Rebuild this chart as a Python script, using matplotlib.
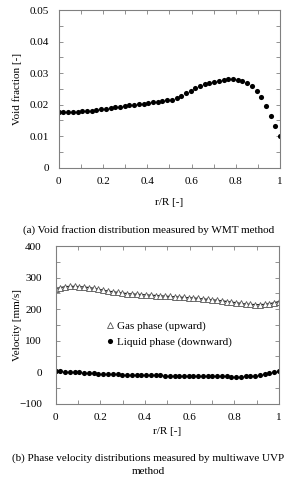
import matplotlib
matplotlib.use('Agg')
import matplotlib.pyplot as plt
from matplotlib.ticker import MultipleLocator, FuncFormatter

# r/R measurement positions
r = [0.000, 0.021, 0.043, 0.064, 0.085, 0.106, 0.128, 0.149, 0.170, 0.191,
     0.213, 0.234, 0.255, 0.277, 0.298, 0.319, 0.340, 0.362, 0.383, 0.404,
     0.426, 0.447, 0.468, 0.489, 0.511, 0.532, 0.553, 0.574, 0.596, 0.617,
     0.638, 0.660, 0.681, 0.702, 0.723, 0.745, 0.766, 0.787, 0.809, 0.830,
     0.851, 0.872, 0.894, 0.915, 0.936, 0.957, 0.979, 1.000]

void = [0.0175, 0.0175, 0.0175, 0.0176, 0.0177, 0.0178, 0.0179, 0.0181, 0.0183, 0.0185,
        0.0187, 0.0189, 0.0191, 0.0193, 0.0195, 0.0197, 0.0199, 0.0201, 0.0203, 0.0205,
        0.0207, 0.0209, 0.0211, 0.0213, 0.0216, 0.0221, 0.0228, 0.0236, 0.0244, 0.0251,
        0.0258, 0.0264, 0.0269, 0.0273, 0.0276, 0.0278, 0.0280, 0.0280, 0.0279, 0.0276,
        0.0270, 0.0260, 0.0244, 0.0223, 0.0196, 0.0165, 0.0133, 0.0100]

gas = [265, 268, 271, 272, 272, 271, 270, 268, 266, 263,
       260, 257, 255, 253, 251, 249, 248, 247, 246, 245,
       244, 243, 242, 241, 240, 239, 238, 237, 236, 235,
       234, 232, 231, 229, 228, 226, 224, 222, 220, 218,
       216, 215, 214, 214, 215, 217, 220, 224]

liquid = [4, 3, 2, 1, 0, -1, -2, -3, -4, -4.5,
          -5, -6, -6.5, -7, -7.5, -8, -8.5, -9, -9.5, -10,
          -10, -10.5, -10.5, -11, -11, -11.5, -11.5, -12, -12, -12,
          -12.5, -12.5, -13, -13, -13, -13.5, -13.5, -14, -14, -14,
          -13.5, -13, -12, -10, -7, -3, 1, 5]

plt.rcParams['font.family'] = ['Liberation Serif', 'DejaVu Serif']
plt.rcParams['font.size'] = 8

fig = plt.figure(figsize=(2.97, 4.80), dpi=100)

axis_grey = '#808080'


def style_axes(ax, ypad):
    for s in ax.spines.values():
        s.set_color(axis_grey)
        s.set_linewidth(0.8)
    ax.tick_params(which='both', direction='in', top=True, right=True,
                   length=3, width=0.6, color=axis_grey, labelsize=8)
    ax.tick_params(axis='x', pad=7)
    ax.tick_params(axis='y', pad=ypad)
    ax.xaxis.set_major_locator(MultipleLocator(0.2))
    ax.xaxis.set_minor_locator(MultipleLocator(0.1))
    ax.xaxis.set_major_formatter(FuncFormatter(lambda v, p: f'{v:g}'))
    ax.set_xlim(0, 1)


# (a) void fraction
ax1 = fig.add_axes([0.198, 0.651, 0.745, 0.328])
ax1.plot(r, void, 'o', color='black', markersize=3.7, markeredgewidth=0)
ax1.set_ylim(0, 0.05)
style_axes(ax1, 7)
ax1.yaxis.set_major_locator(MultipleLocator(0.01))
ax1.yaxis.set_minor_locator(MultipleLocator(0.005))
ax1.yaxis.set_major_formatter(FuncFormatter(lambda v, p: f'{v:g}'))
ax1.set_xlabel('r/R [-]')
ax1.set_ylabel('Void fraction [-]')
ax1.xaxis.set_label_coords(0.5, -0.195)
ax1.yaxis.set_label_coords(-0.165, 0.5)
fig.text(0.5, 1 - 230 / 480, '(a) Void fraction distribution measured by WMT method',
         ha='center', va='center', fontsize=8)

# (b) phase velocities
ax2 = fig.add_axes([0.1875, 0.159, 0.752, 0.3285])
ax2.plot(r, gas, '-', color='#222222', linewidth=0.9, zorder=1)
ax2.plot(r, gas, '^', color='#555555', markerfacecolor='white',
         markersize=3.8, markeredgewidth=0.6, label='Gas phase (upward)', zorder=2)
ax2.plot(r, liquid, 'o', color='black', markersize=3.7, markeredgewidth=0,
         label='Liquid phase (downward)')
ax2.set_ylim(-100, 400)
style_axes(ax2, 10)
ax2.yaxis.set_major_locator(MultipleLocator(100))
ax2.yaxis.set_minor_locator(MultipleLocator(50))
ax2.set_xlabel('r/R [-]')
ax2.set_ylabel('Velocity [mm/s]')
ax2.xaxis.set_label_coords(0.5, -0.15)
ax2.yaxis.set_label_coords(-0.15, 0.5)
ax2.legend(loc='upper left', bbox_to_anchor=(0.2, 0.555), frameon=False,
           handletextpad=0.1, handlelength=1.0, labelspacing=0.6,
           borderaxespad=0, fontsize=8)
fig.text(0.5, 1 - 458 / 480, '(b) Phase velocity distributions measured by multiwave UVP',
         ha='center', va='center', fontsize=8)
fig.text(0.5, 1 - 471 / 480, 'method', ha='center', va='center', fontsize=8)

fig.savefig('out.png', dpi=100)
